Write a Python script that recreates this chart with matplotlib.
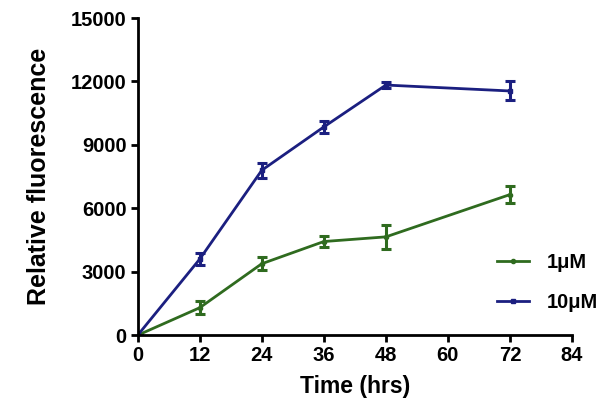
import matplotlib
matplotlib.use("Agg")
import matplotlib.pyplot as plt

plt.rcParams['font.family'] = ['Liberation Sans', 'DejaVu Sans']

time_hrs = [0, 12, 24, 36, 48, 72]
low_dose = [0, 1300, 3380, 4430, 4650, 6650]
low_err = [0, 300, 300, 250, 550, 400]
high_dose = [0, 3600, 7800, 9850, 11830, 11550]
high_err = [0, 300, 350, 300, 150, 450]
x_ticks = [0, 12, 24, 36, 48, 60, 72, 84]
y_ticks = [0, 3000, 6000, 9000, 12000, 15000]

green = '#2f6b1f'
blue = '#1b1f80'

fig = plt.figure(figsize=(6.04, 4.19), dpi=100)
ax = fig.add_axes([0.228, 0.2, 0.719, 0.757])

ax.errorbar(time_hrs, low_dose, yerr=low_err, color=green, marker='o', ms=3,
            lw=2, elinewidth=2.2, capsize=3.5, capthick=2.2, label='1\u03bcM')
ax.errorbar(time_hrs, high_dose, yerr=high_err, color=blue, marker='s', ms=3,
            lw=2, elinewidth=2.2, capsize=3.5, capthick=2.2, label='10\u03bcM')

ax.set_xlim(0, 84)
ax.set_ylim(0, 15000)
ax.set_xticks(x_ticks)
ax.set_yticks(y_ticks)
ax.spines['top'].set_visible(False)
ax.spines['right'].set_visible(False)
ax.spines['left'].set_linewidth(2)
ax.spines['bottom'].set_linewidth(2)
ax.tick_params(width=2, length=5, labelsize=14.5, pad=3)
for lbl in ax.get_xticklabels() + ax.get_yticklabels():
    lbl.set_fontweight('bold')

ax.set_xlabel('Time (hrs)', fontsize=16.5, fontweight='bold', labelpad=7)
ax.set_ylabel('Relative fluorescence', fontsize=18, fontweight='bold', labelpad=14)

handles, labels = ax.get_legend_handles_labels()
handles = [h[0] for h in handles]
ax.legend(handles, labels, loc='lower right', bbox_to_anchor=(1.102, 0.015),
          frameon=False, handlelength=1.6, labelspacing=1.05, handletextpad=0.9,
          prop={'weight': 'bold', 'size': 14.5})

for s in ax.spines.values():
    s.set_clip_on(False)

fig.savefig('out.png', dpi=100)
